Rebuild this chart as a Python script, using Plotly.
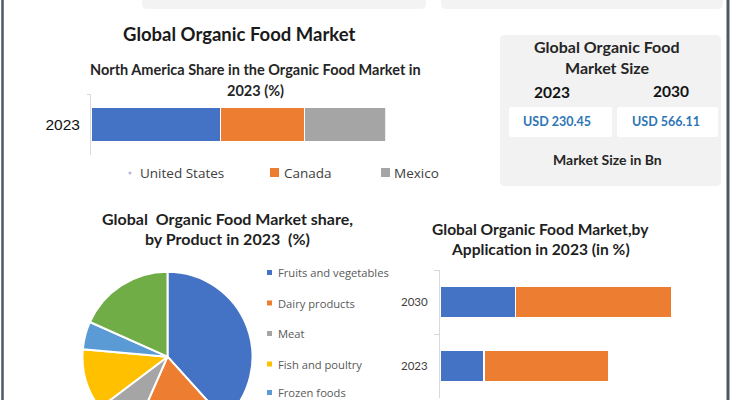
import plotly.graph_objects as go

# ---------------- data ----------------
na_years = ["2023"]
na_countries = ["United States", "Canada", "Mexico"]
na_share = [44.0, 28.5, 27.5]

product_labels = ["Fruits and vegetables", "Dairy products", "Meat",
                  "Fish and poultry", "Frozen foods", "Others"]
product_share = [38.3, 18.3, 8.1, 11.7, 5.3, 18.3]

app_years = ["2023", "2030"]
app_series = ["Segment A", "Segment B"]
app_seg_a = [15.7, 27.0]
app_seg_b = [44.5, 55.6]

size_years = ["2023", "2030"]
size_values = [230.45, 566.11]

# ---------------- styling ----------------
W, H = 735, 445
BLUE, ORANGE, GRAY, YELLOW, LBLUE, GREEN = "#4472c4", "#ed7d31", "#a5a5a5", "#ffc000", "#5b9bd5", "#70ad47"
na_colors = [BLUE, ORANGE, GRAY]
pie_colors = [BLUE, ORANGE, GRAY, YELLOW, LBLUE, GREEN]
app_colors = [BLUE, ORANGE]
TITLE_FONT = "Lato"
AX = "#d9d9d9"


def X(p):
    return p / W


def Y(p):
    return 1 - p / H


def rrect(x0, y0, x1, y1, r):
    return (f"M {X(x0+r)},{Y(y0)} L {X(x1-r)},{Y(y0)} Q {X(x1)},{Y(y0)} {X(x1)},{Y(y0+r)} "
            f"L {X(x1)},{Y(y1-r)} Q {X(x1)},{Y(y1)} {X(x1-r)},{Y(y1)} "
            f"L {X(x0+r)},{Y(y1)} Q {X(x0)},{Y(y1)} {X(x0)},{Y(y1-r)} "
            f"L {X(x0)},{Y(y0+r)} Q {X(x0)},{Y(y0)} {X(x0+r)},{Y(y0)} Z")


fig = go.Figure()

# North America stacked bar
for name, val, col in zip(na_countries, na_share, na_colors):
    fig.add_trace(go.Bar(y=na_years, x=[val], name=name, orientation="h",
                         marker=dict(color=col, line=dict(color="white", width=1)),
                         width=0.557, xaxis="x", yaxis="y", showlegend=False))

# Product pie
fig.add_trace(go.Pie(labels=product_labels, values=product_share, sort=False,
                     direction="clockwise", rotation=0, textinfo="none",
                     marker=dict(colors=pie_colors, line=dict(color="white", width=2)),
                     domain=dict(x=[X(82.5), X(252.5)], y=[Y(441.7), Y(271.7)]),
                     showlegend=False))

# Application stacked bars
for name, vals, col in zip(app_series, [app_seg_a, app_seg_b], app_colors):
    fig.add_trace(go.Bar(y=app_years, x=vals, name=name, orientation="h",
                         marker=dict(color=col, line=dict(color="white", width=1.5)),
                         width=0.48, xaxis="x2", yaxis="y2", showlegend=False))

shapes = []
# page borders
shapes.append(dict(type="line", xref="paper", yref="paper", x0=X(2.5), x1=X(2.5), y0=0, y1=1,
                   line=dict(color="#4d5864", width=2.5)))
shapes.append(dict(type="line", xref="paper", yref="paper", x0=X(728), x1=X(728), y0=0, y1=1,
                   line=dict(color="#4d5864", width=3)))
# top cut boxes
shapes.append(dict(type="path", xref="paper", yref="paper", path=rrect(142, -12, 426, 9, 5),
                   fillcolor="#f3f3f3", line=dict(width=0), layer="below"))
shapes.append(dict(type="path", xref="paper", yref="paper", path=rrect(441, -12, 723, 9, 5),
                   fillcolor="#f3f3f3", line=dict(width=0), layer="below"))
# market size panel
shapes.append(dict(type="path", xref="paper", yref="paper", path=rrect(500, 35, 721, 186, 5),
                   fillcolor="#f2f2f2", line=dict(width=0), layer="below"))
shapes.append(dict(type="path", xref="paper", yref="paper", path=rrect(509, 107, 612, 137, 2),
                   fillcolor="#ffffff", line=dict(width=0), layer="below"))
shapes.append(dict(type="path", xref="paper", yref="paper", path=rrect(617, 107, 718, 137, 2),
                   fillcolor="#ffffff", line=dict(width=0), layer="below"))
# top legend markers
shapes.append(dict(type="circle", xref="paper", yref="paper", x0=X(128.5), x1=X(131.5), y0=Y(174.5), y1=Y(171.5),
                   fillcolor="#b9b1e0", line=dict(width=0)))
shapes.append(dict(type="rect", xref="paper", yref="paper", x0=X(270), x1=X(279), y0=Y(177), y1=Y(168),
                   fillcolor=ORANGE, line=dict(width=0)))
shapes.append(dict(type="rect", xref="paper", yref="paper", x0=X(381), x1=X(390), y0=Y(177), y1=Y(168),
                   fillcolor=GRAY, line=dict(width=0)))
# pie legend markers
pie_leg_y = [272.5, 303, 333.5, 364, 392.5]
for yy, col in zip(pie_leg_y, pie_colors):
    shapes.append(dict(type="rect", xref="paper", yref="paper", x0=X(267), x1=X(272),
                       y0=Y(yy + 2.5), y1=Y(yy - 2.5), fillcolor=col, line=dict(width=0)))

ann = []


def text(x, y, t, size, color="#1f1f1f", bold=True, family=TITLE_FONT, xanchor="center", pad=1):
    ann.append(dict(x=X(x), y=Y(y), xref="paper", yref="paper", text=(f"<b>{t}</b>" if bold else t),
                    showarrow=False, xanchor=xanchor, yanchor="middle", borderpad=pad,
                    font=dict(size=size, color=color, family=family)))


text(240, 34, "Global Organic Food Market", 18.5, "#1a1a1a")
text(255, 70, "North America Share in the Organic Food Market in", 14.5, "#262626")
text(255, 90, "2023 (%)", 14.5, "#262626")

text(138, 173, na_countries[0], 13.5, "#404040", bold=False, family="Open Sans", xanchor="left")
text(282, 173, na_countries[1], 13.5, "#404040", bold=False, family="Open Sans", xanchor="left")
text(392, 173, na_countries[2], 13.5, "#404040", bold=False, family="Open Sans", xanchor="left")

text(607, 47, "Global Organic Food", 16, "#262626")
text(607, 67, "Market Size", 16, "#262626")
text(552, 92, size_years[0], 15.5, "#111111")
text(671, 91, size_years[1], 15.5, "#111111")
text(557, 122, f"USD {size_values[0]:.2f}", 12.5, "#2e75b6")
text(666, 122, f"USD {size_values[1]:.2f}", 12.5, "#2e75b6")
text(607, 159, "Market Size in Bn", 14, "#262626")

text(227, 218, "Global  Organic Food Market share,", 16, "#1f1f1f")
text(227, 238, "by Product in 2023  (%)", 16, "#1f1f1f")
for yy, lab in zip(pie_leg_y, product_labels):
    text(277, yy, lab, 11.2, "#595959", bold=False, family="Open Sans", xanchor="left", pad=0)

text(540, 229, "Global Organic Food Market,by", 15.6, "#1f1f1f")
text(540, 249, "Application in 2023 (in %)", 15.6, "#1f1f1f")

fig.update_layout(
    width=W, height=H, margin=dict(l=0, r=0, t=0, b=0),
    paper_bgcolor="white", plot_bgcolor="rgba(0,0,0,0)",
    barmode="stack",
    shapes=shapes, annotations=ann,
    xaxis=dict(domain=[X(91), X(385.7)], range=[0, 100], visible=False, fixedrange=True),
    yaxis=dict(domain=[Y(155), Y(94)], range=[-0.5, 0.5], showline=True, linecolor=AX, linewidth=1,
               ticks="outside", tickson="boundaries", ticklen=3, tickcolor=AX, showgrid=False,
               ticklabelstandoff=7, tickfont=dict(family="Liberation Sans", size=15.5, color="#111111"),
               anchor="x"),
    xaxis2=dict(domain=[X(440), X(720)], range=[0, 100], visible=False, anchor="y2", fixedrange=True),
    yaxis2=dict(domain=[Y(398), Y(270)], range=[-0.5, 1.5], showline=True, linecolor=AX, linewidth=1,
                ticks="outside", tickson="boundaries", ticklen=5, tickcolor=AX, showgrid=False,
                ticklabelstandoff=9, tickfont=dict(family="Lato", size=11.5, color="#404040"),
                anchor="x2", categoryorder="array", categoryarray=app_years),
)

fig.write_html("out.html",
               post_script="document.body.style.overflow='hidden';document.documentElement.style.overflow='hidden';")
